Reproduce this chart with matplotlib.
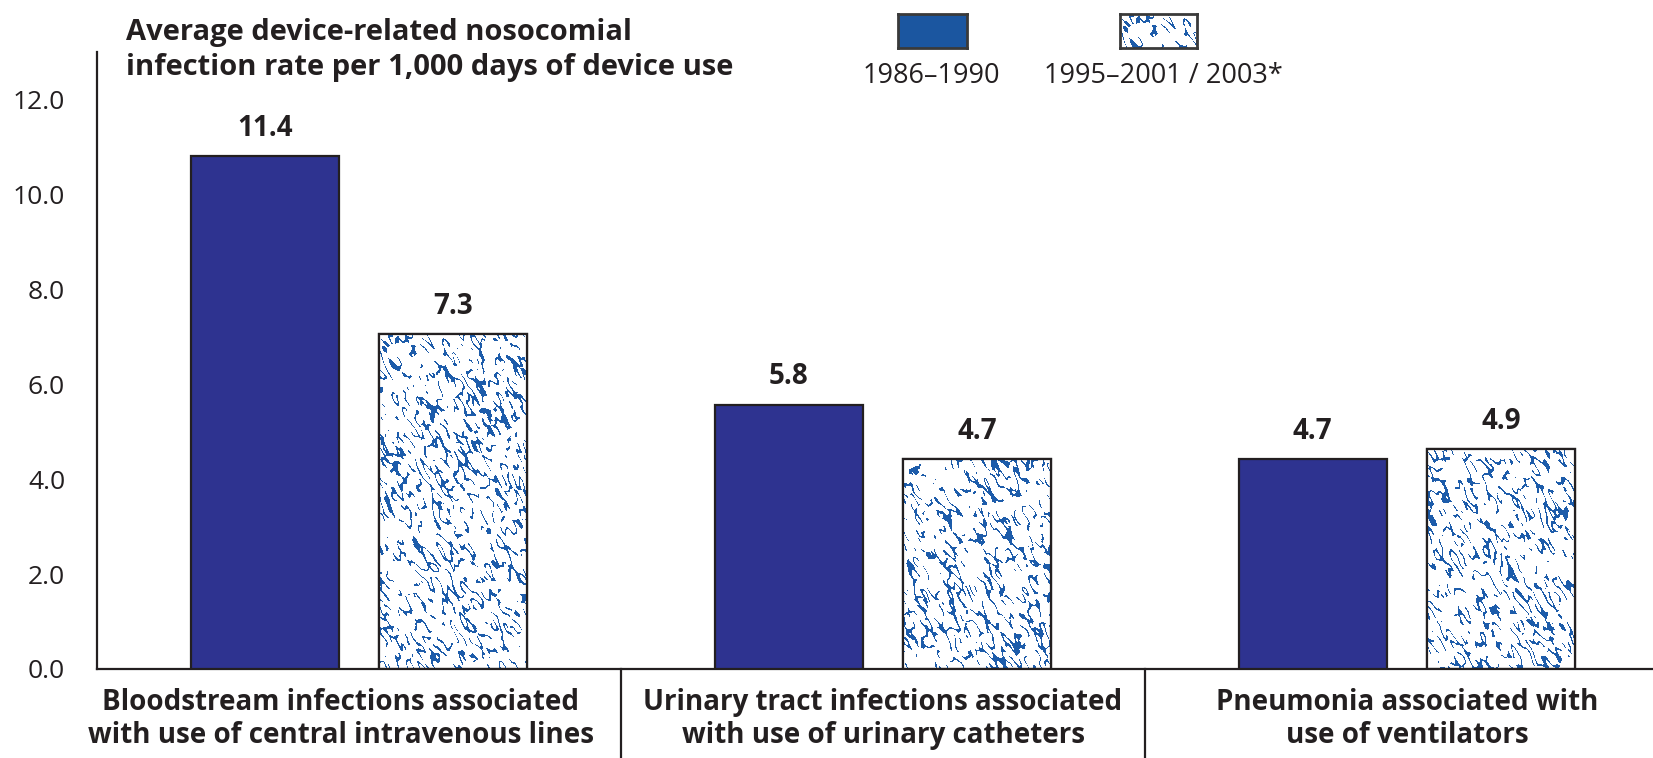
import numpy as np
import matplotlib
matplotlib.use("Agg")
import matplotlib.pyplot as plt
from matplotlib.patches import Rectangle
from matplotlib.transforms import blended_transform_factory

categories = [
    "Bloodstream infections associated\nwith use of central intravenous lines",
    "Urinary tract infections associated\nwith use of urinary catheters",
    "Pneumonia associated with\nuse of ventilators",
]
series_names = ["1986\u20131990", "1995\u20132001 / 2003*"]
# bar heights as drawn in the picture, and the printed labels
heights_early = [10.8, 5.57, 4.42]
heights_late = [7.05, 4.42, 4.64]
labels_early = ["11.4", "5.8", "4.7"]
labels_late = ["7.3", "4.7", "4.9"]
yticks = [0, 2, 4, 6, 8, 10, 12]

navy = "#2e3390"
swatch_blue = "#1b56a0"
speck_blue = "#1d5caa"
edge = "#231f20"

plt.rcParams["font.family"] = ["Open Sans", "DejaVu Sans"]


def speckle_texture(h, w, seed=4):
    # decorative squiggle texture for the second series
    rng = np.random.default_rng(seed)
    fy = np.fft.fftfreq(h)[:, None]
    fx = np.fft.fftfreq(w)[None, :]
    th = np.deg2rad(60)
    u = fx * np.cos(th) + fy * np.sin(th)
    v = -fx * np.sin(th) + fy * np.cos(th)
    f1 = np.real(np.fft.ifft2(np.fft.fft2(rng.standard_normal((h, w))) *
                              np.exp(-(u / 0.05) ** 2 - (v / 0.13) ** 2)))
    f2 = np.real(np.fft.ifft2(np.fft.fft2(rng.standard_normal((h, w))) *
                              np.exp(-(fx ** 2 + fy ** 2) / 0.08 ** 2)))
    f1 /= f1.std()
    f2 /= f2.std()
    mask = (np.abs(f1) < 0.34) & (f2 > -0.4)
    rgb = np.array(matplotlib.colors.to_rgb(speck_blue))
    img = np.ones((h, w, 3))
    img[mask] = rgb
    return img


tex = speckle_texture(600, 600)

px_unit = 524  # pixels per category on the x axis
fig = plt.figure(figsize=(16.53, 7.58), dpi=100)
ax = fig.add_axes([97 / 1653, 89 / 758, 3 * px_unit / 1653, (669 - 52) / 758])
ax.set_xlim(-0.5, 2.5)
ax.set_ylim(0, 13.0)

x = np.arange(len(categories))
off = 0.18
bw = 0.283

bars1 = ax.bar(x - off, heights_early, bw, color=navy, edgecolor=edge,
               linewidth=1.6, zorder=3)
bars2 = ax.bar(x + off, heights_late, bw, color="white", edgecolor=edge,
               linewidth=1.6, zorder=2)
for i, b in enumerate(bars2):
    x0 = b.get_x()
    h = b.get_height()
    ax.imshow(tex[: int(h * 47.4) + 2, 150 * i: 150 * i + 150],
              extent=[x0, x0 + bw, 0, h], aspect="auto", origin="upper",
              interpolation="nearest", clip_path=b, zorder=2.5)
    ax.add_patch(Rectangle((x0, 0), bw, h, fill=False, edgecolor=edge,
                           linewidth=1.6, zorder=3))

for bars, labs in [(bars1, labels_early), (bars2, labels_late)]:
    for b, lab in zip(bars, labs):
        ax.annotate(lab, (b.get_x() + bw / 2, b.get_height()),
                    xytext=(0, 20), textcoords="offset points",
                    ha="center", va="center", fontsize=20,
                    fontweight="bold", color=edge)

ax.set_yticks(yticks)
ax.set_yticklabels([f"{t:.1f}" for t in yticks], fontsize=19, color=edge)
ax.tick_params(axis="y", length=0, pad=23)
ax.set_xticks([])
for s in ["top", "right"]:
    ax.spines[s].set_visible(False)
ax.spines["left"].set_color(edge)
ax.spines["bottom"].set_color(edge)
ax.spines["left"].set_linewidth(1.6)
ax.spines["bottom"].set_linewidth(1.6)

trans = blended_transform_factory(ax.transData, ax.transAxes)
for xs in [0.5, 1.5]:
    ax.plot([xs, xs], [0, -0.2], transform=trans, color=edge,
            linewidth=1.6, clip_on=False)
label_shift = [-0.035, 0, 0]
for i, cat in enumerate(categories):
    ax.text(i + label_shift[i], -0.081, cat, transform=trans, ha="center",
            va="center", fontsize=20, fontweight="bold", color=edge,
            linespacing=1.2)

fig.text(126 / 1653, 1 - 50 / 758,
         "Average device-related nosocomial\ninfection rate per 1,000 days of device use",
         ha="left", va="center", fontsize=21, fontweight="bold",
         color=edge, linespacing=1.25)

# legend
sw1 = fig.add_axes([898 / 1653, 1 - 48 / 758, 69 / 1653, 34 / 758])
sw1.set_facecolor(swatch_blue)
sw2 = fig.add_axes([1120 / 1653, 1 - 48 / 758, 77 / 1653, 34 / 758])
sw2.imshow(tex[:34, :77], aspect="auto", interpolation="nearest")
for sw in (sw1, sw2):
    sw.set_xticks([])
    sw.set_yticks([])
    for s in sw.spines.values():
        s.set_color("#3a3a3a")
        s.set_linewidth(2)
fig.text(931 / 1653, 1 - 76 / 758, series_names[0], ha="center",
         va="center", fontsize=19.5, color=edge)
fig.text(1163 / 1653, 1 - 76 / 758, series_names[1], ha="center",
         va="center", fontsize=19.5, color=edge)

fig.savefig("out.png", dpi=100)
